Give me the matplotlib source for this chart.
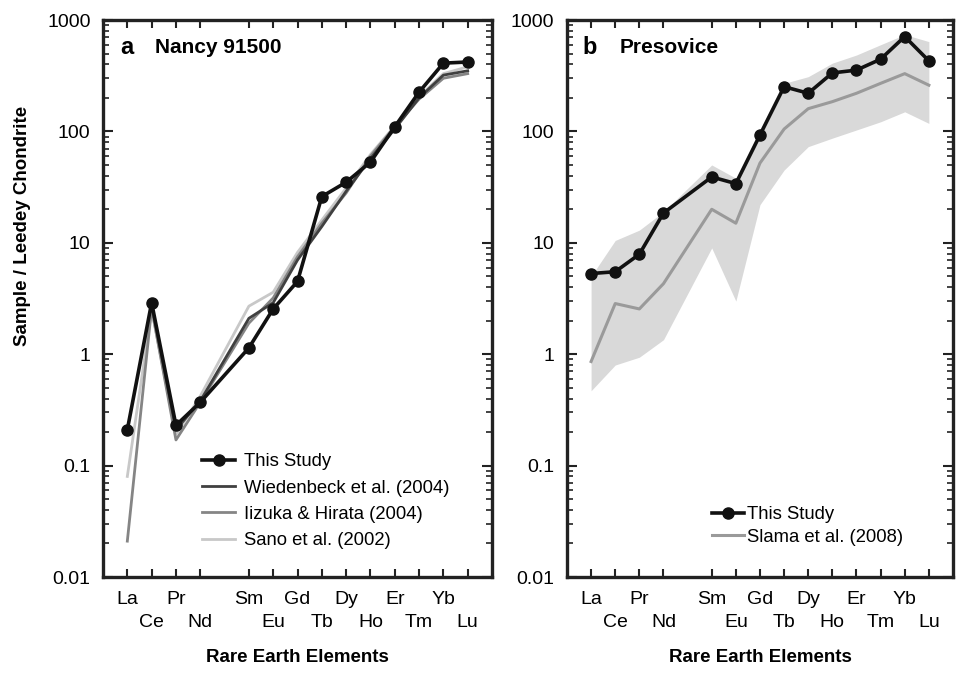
import numpy as np
import matplotlib.pyplot as plt
from matplotlib.ticker import LogLocator, FixedLocator, NullFormatter

plt.rcParams['font.family'] = ['Liberation Sans', 'DejaVu Sans']

elements = ["La", "Ce", "Pr", "Nd", "Sm", "Eu", "Gd", "Tb", "Dy", "Ho", "Er", "Tm", "Yb", "Lu"]
xpos = [0, 1, 2, 3, 5, 6, 7, 8, 9, 10, 11, 12, 13, 14]   # Pm left out

# panel a - Nancy 91500
nancy_this = [0.21, 2.9, 0.23, 0.37, 1.14, 2.55, 4.5, 26, 35, 53, 110, 225, 410, 420]
wiedenbeck = [np.nan, 2.8, 0.21, 0.38, 2.1, 2.9, 7.0, 14, 29, 57, 105, 200, 320, 350]
iizuka = [0.021, 2.6, 0.17, 0.37, 1.9, 3.2, 7.5, 15, 28, 60, 110, 195, 300, 330]
sano = [0.08, 2.5, 0.19, 0.42, 2.7, 3.6, 8.2, 16, 31, 62, 112, 205, 330, 380]

# panel b - Presovice
pres_this = [5.3, 5.5, 7.9, 18.5, 39, 34, 93, 252, 220, 335, 355, 445, 710, 430]
slama = [0.86, 2.85, 2.55, 4.3, 20, 15, 52, 105, 160, 185, 220, 270, 330, 260]
slama_hi = [5.0, 10.5, 13, 19, 50, 38, 103, 270, 310, 410, 485, 600, 740, 640]
slama_lo = [0.47, 0.8, 0.94, 1.35, 9.0, 3.0, 22, 45, 73, 87, 103, 122, 150, 118]

fig = plt.figure(figsize=(9.6, 6.76), dpi=100)
ax1 = fig.add_axes([0.1073, 0.1464, 0.4052, 0.824])
ax2 = fig.add_axes([0.5906, 0.1464, 0.4021, 0.824])


def style_axis(ax):
    ax.set_yscale("log")
    ax.set_ylim(0.01, 1000)
    ax.set_xlim(-1, 15)
    ax.set_xticks(xpos)
    labels = [e if i % 2 == 0 else "\n" + e for i, e in enumerate(elements)]
    ax.set_xticklabels(labels, fontsize=14, linespacing=1.5)
    ax.yaxis.set_major_locator(FixedLocator([0.01, 0.1, 1, 10, 100, 1000]))
    ax.set_yticklabels(["0.01", "0.1", "1", "10", "100", "1000"], fontsize=14)
    ax.yaxis.set_minor_locator(LogLocator(base=10, subs=np.arange(2, 10), numticks=20))
    ax.yaxis.set_minor_formatter(NullFormatter())
    ax.tick_params(axis="both", which="both", direction="in", top=True, right=True,
                   color="#222222")
    ax.tick_params(axis="x", which="major", length=6, width=1.5, pad=10)
    ax.tick_params(axis="y", which="major", length=7, width=1.5, pad=9)
    ax.tick_params(axis="y", which="minor", length=4, width=1.2)
    for s in ax.spines.values():
        s.set_linewidth(2.4)
        s.set_color("#222222")
    ax.set_xlabel("Rare Earth Elements", fontsize=13.5, fontweight="bold")
    ax.xaxis.set_label_coords(0.5, -0.13)


style_axis(ax1)
style_axis(ax2)

# panel a
ax1.plot(xpos, sano, color="#c8c8c8", lw=2, label="Sano et al. (2002)", zorder=2)
ax1.plot(xpos, iizuka, color="#858585", lw=2, label="Iizuka & Hirata (2004)", zorder=3)
ax1.plot(xpos, wiedenbeck, color="#404040", lw=2, label="Wiedenbeck et al. (2004)", zorder=4)
ax1.plot(xpos, nancy_this, color="#111111", lw=2.6, marker="o", ms=8, label="This Study", zorder=5)
h, l = ax1.get_legend_handles_labels()
ax1.legend(h[::-1], l[::-1], loc="upper left", bbox_to_anchor=(0.255, 0.222), frameon=False,
           fontsize=13.3, handlelength=1.8, handletextpad=0.45, labelspacing=0.5,
           borderpad=0, borderaxespad=0)
ax1.text(0.044, 0.95, "a", transform=ax1.transAxes, fontsize=17, fontweight="bold", va="center")
ax1.text(0.134, 0.95, "Nancy 91500", transform=ax1.transAxes, fontsize=15, fontweight="bold", va="center")
ax1.set_ylabel("Sample / Leedey Chondrite", fontsize=13.5, fontweight="bold")
ax1.yaxis.set_label_coords(-0.185, 0.63)

# panel b
ax2.fill_between(xpos, slama_lo, slama_hi, color="#d9d9d9", lw=0, zorder=1)
ax2.plot(xpos, pres_this, color="#111111", lw=2.6, marker="o", ms=8, label="This Study", zorder=5)
ax2.plot(xpos, slama, color="#9a9a9a", lw=2.2, label="Slama et al. (2008)", zorder=3)
ax2.legend(loc="upper left", bbox_to_anchor=(0.376, 0.127), frameon=False,
           fontsize=13.3, handlelength=1.7, handletextpad=0.2, labelspacing=0.3,
           borderpad=0, borderaxespad=0)
ax2.text(0.041, 0.95, "b", transform=ax2.transAxes, fontsize=17, fontweight="bold", va="center")
ax2.text(0.137, 0.95, "Presovice", transform=ax2.transAxes, fontsize=15, fontweight="bold", va="center")

fig.savefig("out.png", dpi=100)
